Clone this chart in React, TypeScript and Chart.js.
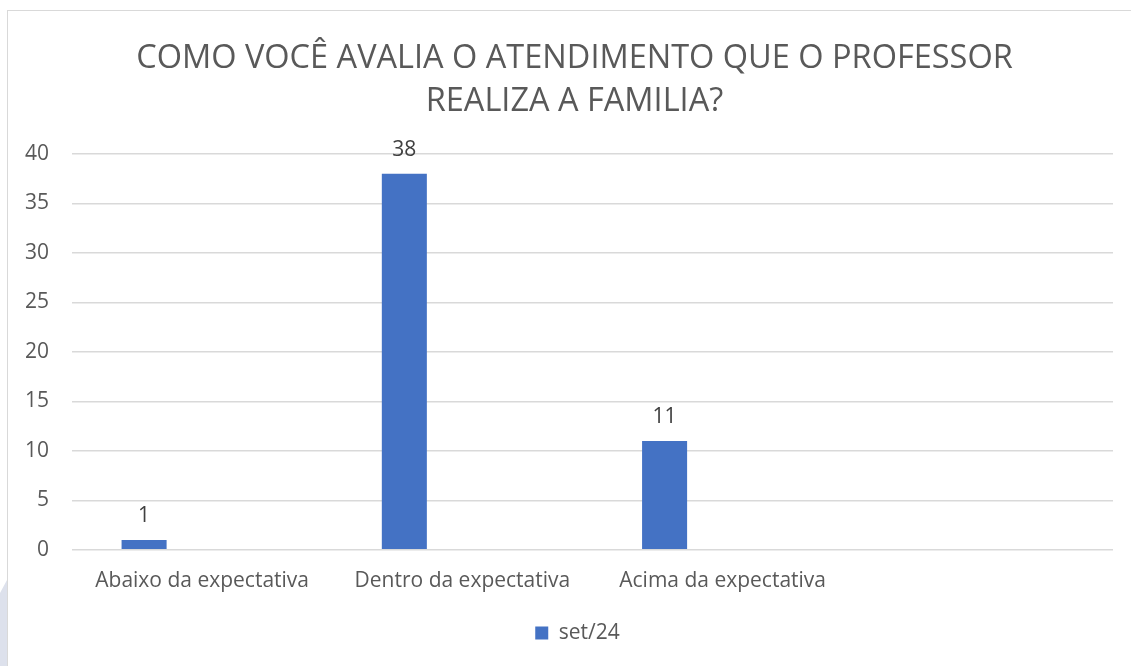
import React, { useEffect, useRef } from "react";
import { Chart, registerables } from "chart.js";

Chart.register(...registerables);

const categories = ["Abaixo da expectativa", "Dentro da expectativa", "Acima da expectativa", ""];
const seriesName = "set/24";
const seriesValues = [1, 38, 11, null];
const emptySeries = [null, null, null, null];
const titleLines = ["COMO VOCÊ AVALIA O ATENDIMENTO QUE O PROFESSOR", "REALIZA A FAMILIA?"];

const FONT = "'Open Sans', 'Noto Sans', sans-serif";

const valueLabels = {
  id: "valueLabels",
  afterDatasetsDraw(chart: any) {
    const meta = chart.getDatasetMeta(0);
    const ctx = chart.ctx;
    ctx.save();
    ctx.font = `21px ${FONT}`;
    ctx.fillStyle = "#404040";
    ctx.textAlign = "center";
    ctx.textBaseline = "middle";
    meta.data.forEach((el: any, i: number) => {
      const v = chart.data.datasets[0].data[i];
      if (v === null || v === undefined) return;
      ctx.fillText(String(v), el.x, el.y - 24);
    });
    ctx.restore();
  },
};

const centeredTitle = {
  id: "centeredTitle",
  afterDraw(chart: any) {
    const ctx = chart.ctx;
    ctx.save();
    ctx.font = `32.5px ${FONT}`;
    ctx.fillStyle = "#595959";
    ctx.textAlign = "center";
    ctx.textBaseline = "middle";
    const cx = chart.width / 2 + 1;
    titleLines.forEach((line, i) => {
      ctx.fillText(line, cx, 48 + i * 43);
    });
    ctx.restore();
  },
};

const legendShift = {
  id: "legendShift",
  afterLayout(chart: any) {
    const lg = chart.legend;
    if (lg) {
      lg.left += 10;
      lg.right += 10;
    }
  },
};

export default function App() {
  const ref = useRef<HTMLCanvasElement | null>(null);
  useEffect(() => {
    if (!ref.current) return;
    const chart = new Chart(ref.current, {
      type: "bar",
      data: {
        labels: categories,
        datasets: [
          {
            label: seriesName,
            data: seriesValues as any,
            backgroundColor: "#4472C4",
            categoryPercentage: 0.892,
            barPercentage: 0.388,
          },
          {
            label: "",
            data: emptySeries as any,
            backgroundColor: "#ED7D31",
            categoryPercentage: 0.892,
            barPercentage: 0.388,
          },
        ],
      },
      options: {
        animation: false,
        responsive: false,
        maintainAspectRatio: false,
        layout: { padding: { left: 14, right: 26, top: 143, bottom: 12.5 } },
        plugins: {
          title: { display: false },
          legend: {
            position: "bottom",
            labels: {
              filter: (item: any) => item.datasetIndex === 0,
              color: "#595959",
              font: { family: FONT, size: 21 },
              boxWidth: 13,
              boxHeight: 13,
              padding: 9.5,
            },
          },
          tooltip: { enabled: false },
        },
        scales: {
          x: {
            grid: { display: false, drawTicks: false },
            border: { display: false },
            ticks: { color: "#595959", font: { family: FONT, size: 21 }, padding: 19, maxRotation: 0 },
          },
          y: {
            min: 0,
            max: 40,
            ticks: { stepSize: 5, color: "#595959", font: { family: FONT, size: 21 }, padding: 23 },
            grid: { color: "#d9d9d9", lineWidth: 1.5, drawTicks: false },
            border: { display: false },
            afterFit: (scale: any) => {
              scale.width = 50;
            },
          },
        },
      },
      plugins: [valueLabels, centeredTitle, legendShift],
    });
    return () => chart.destroy();
  }, []);

  return (
    <div style={{ position: "fixed", left: 0, top: 0, width: 1131, height: 666, overflow: "hidden", background: "#fff" }}>
      <div
        style={{
          position: "absolute",
          left: 0,
          top: 580,
          width: 7,
          height: 86,
          background: "#dde1ec",
          clipPath: "polygon(0 15%, 100% 0, 100% 100%, 0 100%)",
        }}
      />
      <div
        style={{
          position: "absolute",
          left: 7,
          top: 10,
          width: 1140,
          height: 670,
          borderLeft: "1.5px solid #d9d9d9",
          borderTop: "1.5px solid #d9d9d9",
        }}
      >
        <canvas ref={ref} width={1131} height={655} style={{ display: "block", width: 1131, height: 655 }} />
      </div>
    </div>
  );
}
